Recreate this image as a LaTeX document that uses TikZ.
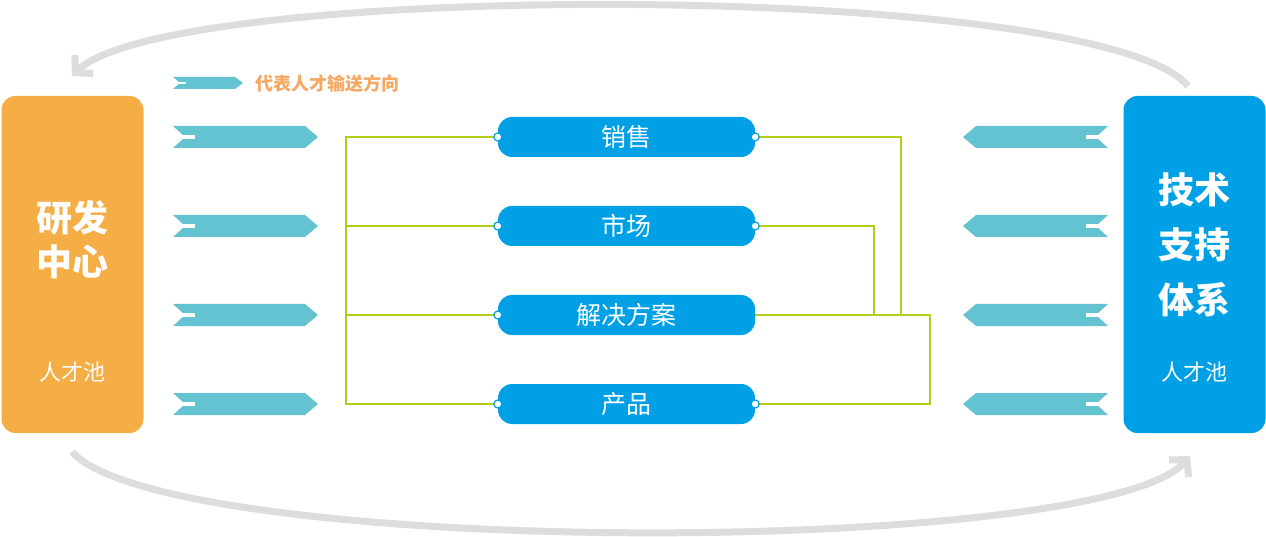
\documentclass[tikz,border=0pt]{standalone}
\usepackage{fontspec}
\newfontfamily\cjk{Noto Sans CJK SC}
\usetikzlibrary{arrows.meta}
\usetikzlibrary{calc}
\definecolor{orgbox}{HTML}{F5AE45}
\definecolor{bluebox}{HTML}{00A0E6}
\definecolor{teal}{HTML}{63C3D1}
\definecolor{lgreen}{HTML}{B5CC18}
\definecolor{lgrey}{HTML}{DCDDDD}
\definecolor{legtxt}{HTML}{F4A862}
\tikzset{
  pill/.style={fill=bluebox, rounded corners=14pt, minimum width=257pt, minimum height=40pt, text=white, font=\cjk\fontsize{25}{25}\selectfont, inner sep=0pt},
  pool/.style={fill=#1, rounded corners=14pt, minimum width=142pt, minimum height=337pt, inner sep=0pt},
  link/.style={lgreen, line width=1.6pt},
  loop/.style={lgrey, line width=7pt, -{Straight Barb[length=12pt,width=26pt,line width=7pt]}},
}
\newcommand{\flowR}[2]{% tail at #1, length #2
  \fill[teal] ($#1+(0,-11)$) -- ++(#2-13,0) -- ++(13,11) -- ++(-13,11) -- ++(-#2+13,0) -- ++(12,-11) -- cycle;
  \fill[white] ($#1+(10,-2)$) rectangle ++(12,4);}
\newcommand{\flowL}[2]{%
  \fill[teal] ($#1+(0,-11)$) -- ++(-#2+13,0) -- ++(-13,11) -- ++(13,11) -- ++(#2-13,0) -- ++(-12,-11) -- cycle;
  \fill[white] ($#1+(-10,-2)$) rectangle ++(-12,4);}
\begin{document}
\begin{tikzpicture}[x=1pt,y=-1pt]
  \useasboundingbox (0,0) rectangle (1266,537);

  % pools
  \node[pool=orgbox] (rd) at (72.5,264.5) {};
  \node[pool=bluebox] (ts) at (1194.5,264.5) {};
  \node[text=white, font=\cjk\bfseries\fontsize{36}{44}\selectfont, align=center] (rdt) at (72,240) {研发\\中心};
  \node[text=white, font=\cjk\fontsize{22}{22}\selectfont] (rdp) at (72,372) {人才池};
  \node[text=white, font=\cjk\bfseries\fontsize{36}{55}\selectfont, align=center] (tst) at (1194,245) {技术\\支持\\体系};
  \node[text=white, font=\cjk\fontsize{22}{22}\selectfont] (tsp) at (1194,372) {人才池};

  % departments
  \node[pill] (sale) at (626.5,137) {销售};
  \node[pill] (mkt) at (626.5,226) {市场};
  \node[pill] (sol) at (626.5,315) {解决方案};
  \node[pill] (prod) at (626.5,404) {产品};

  % links
  \coordinate (lbus) at (346,137);
  \draw[link] (sale.west) -| (lbus) |- (prod.west);
  \draw[link] (mkt.west) -- (mkt.west -| lbus);
  \draw[link] (sol.west) -- (sol.west -| lbus);
  \draw[link] (sale.east) -| (901,315);
  \draw[link] (mkt.east) -| (874,315);
  \draw[link] (sol.east) -| (930,404) -- (prod.east);
  \foreach \n in {sale,mkt,sol,prod}
    \filldraw[fill=white, draw=bluebox, line width=1.2pt] (\n.west) circle (4pt);
  \foreach \n in {sale,mkt,prod}
    \filldraw[fill=white, draw=bluebox, line width=1.2pt] (\n.east) circle (4pt);

  % flow markers
  \foreach \y in {137,226,315,404} {
    \flowR{(173,\y)}{145}
    \flowL{(1108,\y)}{145}
  }
  \fill[teal] (173,77) -- (235,77) -- (243,83) -- (235,89) -- (173,89) -- (180,83) -- cycle;
  \fill[white] (178,82) rectangle ++(8,2);
  \node[anchor=west, text=legtxt, font=\cjk\bfseries\fontsize{18}{18}\selectfont] (leg) at (252,84) {代表人才输送方向};

  % cycle arrows
  \draw[loop] (1188,86) .. controls (1100,-20) and (170,-20) .. (72,76);
  \draw[loop] (72,452) .. controls (170,558) and (1100,558) .. (1190,456);
\end{tikzpicture}
\end{document}
